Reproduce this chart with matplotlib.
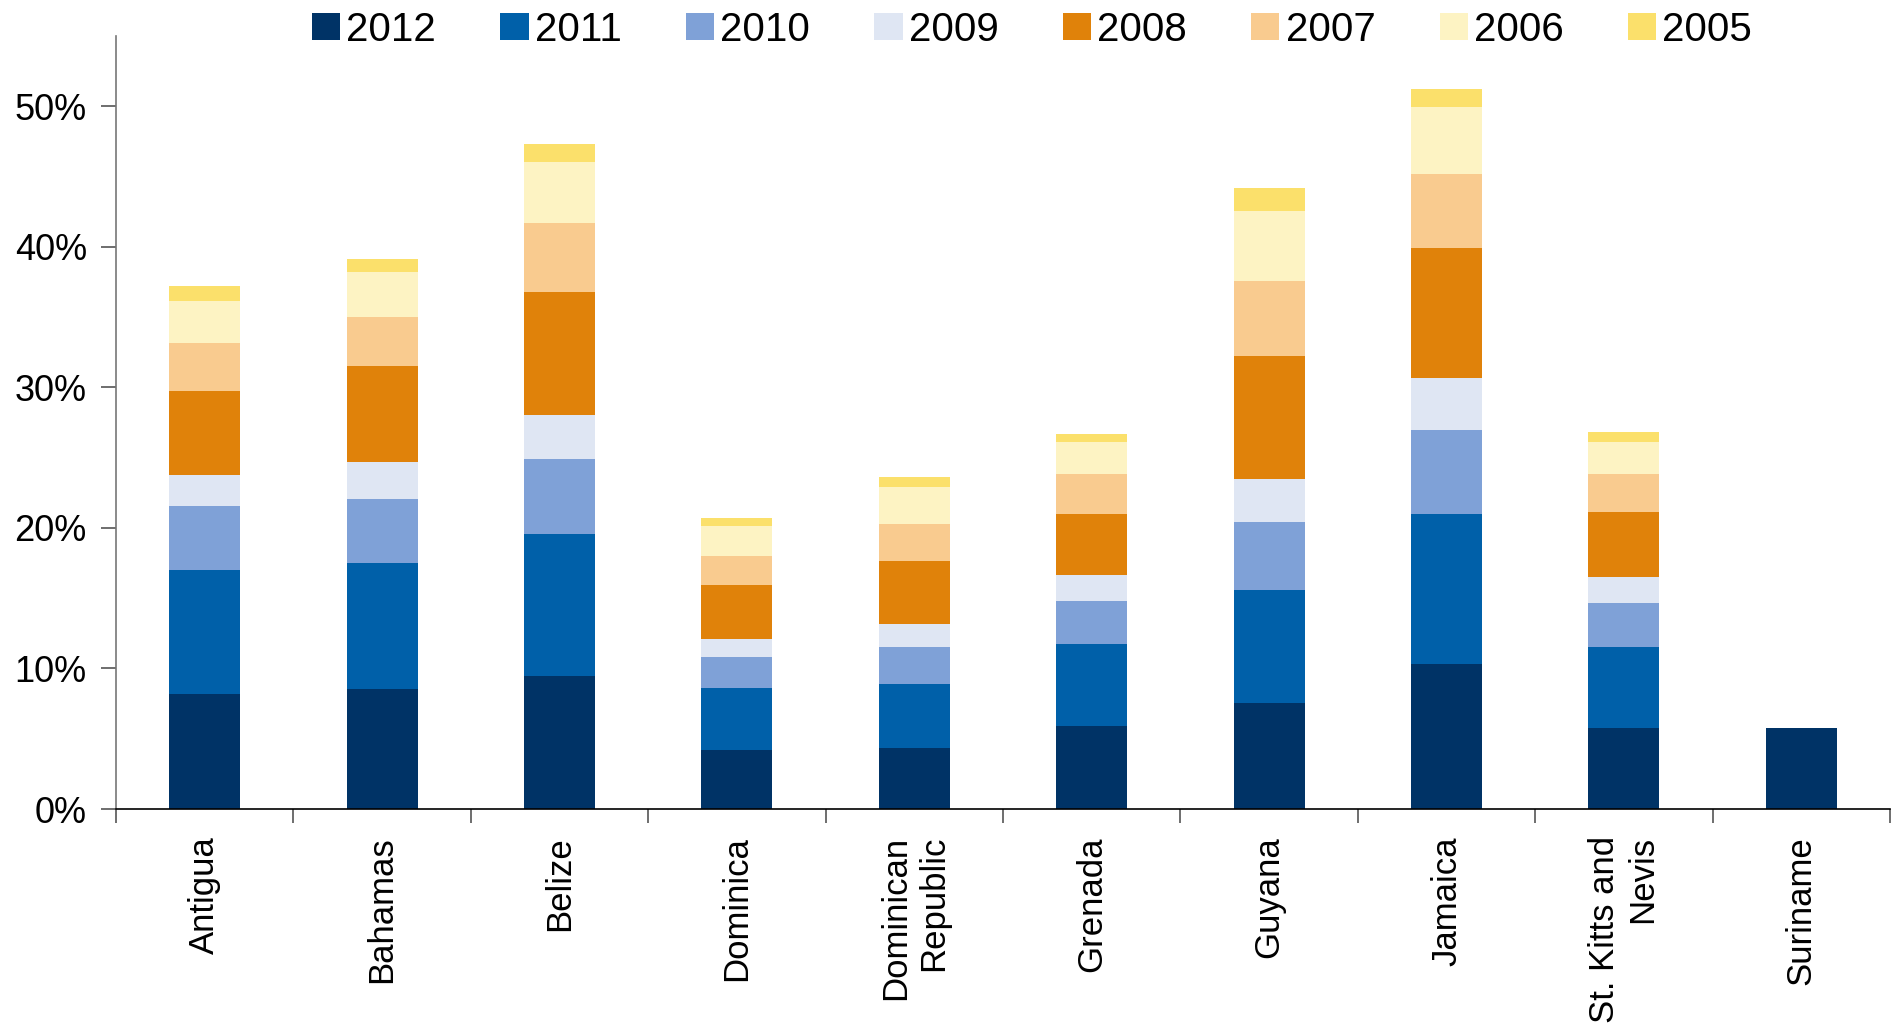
import numpy as np
import matplotlib.pyplot as plt
from matplotlib.ticker import FuncFormatter, FixedLocator

plt.rcParams['font.family'] = ['Liberation Sans', 'DejaVu Sans']

countries = ['Antigua', 'Bahamas', 'Belize', 'Dominica', 'Dominican\nRepublic',
             'Grenada', 'Guyana', 'Jamaica', 'St. Kitts and\nNevis', 'Suriname']
years = ['2012', '2011', '2010', '2009', '2008', '2007', '2006', '2005']

# share of each year's contribution, in percent, bottom (2012) to top (2005)
y2012 = [8.15, 8.54, 9.46, 4.20, 4.34, 5.89, 7.52, 10.30, 5.75, 5.75]
y2011 = [8.82, 8.93, 10.12, 4.41, 4.55, 5.82, 8.04, 10.70, 5.75, 0]
y2010 = [4.59, 4.62, 5.30, 2.19, 2.61, 3.11, 4.87, 5.96, 3.18, 0]
y2009 = [2.22, 2.61, 3.14, 1.27, 1.63, 1.80, 3.07, 3.70, 1.80, 0]
y2008 = [5.97, 6.81, 8.75, 3.84, 4.55, 4.38, 8.72, 9.28, 4.66, 0]
y2007 = [3.38, 3.53, 4.94, 2.12, 2.61, 2.85, 5.32, 5.26, 2.71, 0]
y2006 = [3.00, 3.14, 4.34, 2.12, 2.65, 2.26, 5.01, 4.76, 2.26, 0]
y2005 = [1.06, 0.92, 1.27, 0.56, 0.70, 0.57, 1.66, 1.28, 0.71, 0]

colors = ['#003366', '#0060A9', '#7FA1D7', '#DFE6F3',
          '#E0820A', '#F9CB8F', '#FDF3C3', '#FBE06B']

series = [y2012, y2011, y2010, y2009, y2008, y2007, y2006, y2005]

fig = plt.figure(figsize=(19.02, 10.34), dpi=100)
ax = fig.add_axes([0.061, 0.2176, 0.9327, 0.7476])

x = np.arange(len(countries))
bottom = np.zeros(len(countries))
for label, vals, col in zip(years, series, colors):
    vals = np.array(vals) / 100.0
    ax.bar(x, vals, 0.4, bottom=bottom, color=col, label=label, linewidth=0)
    bottom += vals

ax.set_xlim(-0.5, len(countries) - 0.5)
ax.set_ylim(0, 0.55)
ax.set_yticks(np.arange(0, 0.51, 0.1))
ax.yaxis.set_major_formatter(FuncFormatter(lambda v, p: f'{v * 100:.0f}%'))

ax.set_xticks(x)
ax.set_xticklabels(countries, rotation=90, va='top', ha='center',
                   multialignment='right', fontsize=25)
ax.xaxis.set_minor_locator(FixedLocator(np.arange(-0.5, len(countries), 1.0)))
ax.tick_params(axis='x', which='major', length=0, pad=19.5)
ax.tick_params(axis='x', which='minor', length=10, width=1.2, color='#555555')
ax.tick_params(axis='y', length=11, width=1.2, color='#555555', labelsize=26, pad=10)

for side in ['top', 'right']:
    ax.spines[side].set_visible(False)
ax.spines['left'].set_color('#777777')
ax.spines['left'].set_linewidth(1.2)
ax.spines['bottom'].set_color('black')
ax.spines['bottom'].set_linewidth(1.2)

fig.legend(loc='center', bbox_to_anchor=(1032 / 1902, 1 - 30 / 1034), ncol=8,
           frameon=False, fontsize=29, handlelength=0.7, handleheight=0.65,
           handletextpad=0.15, columnspacing=1.6, borderpad=0)

fig.savefig('out.png', dpi=100)
